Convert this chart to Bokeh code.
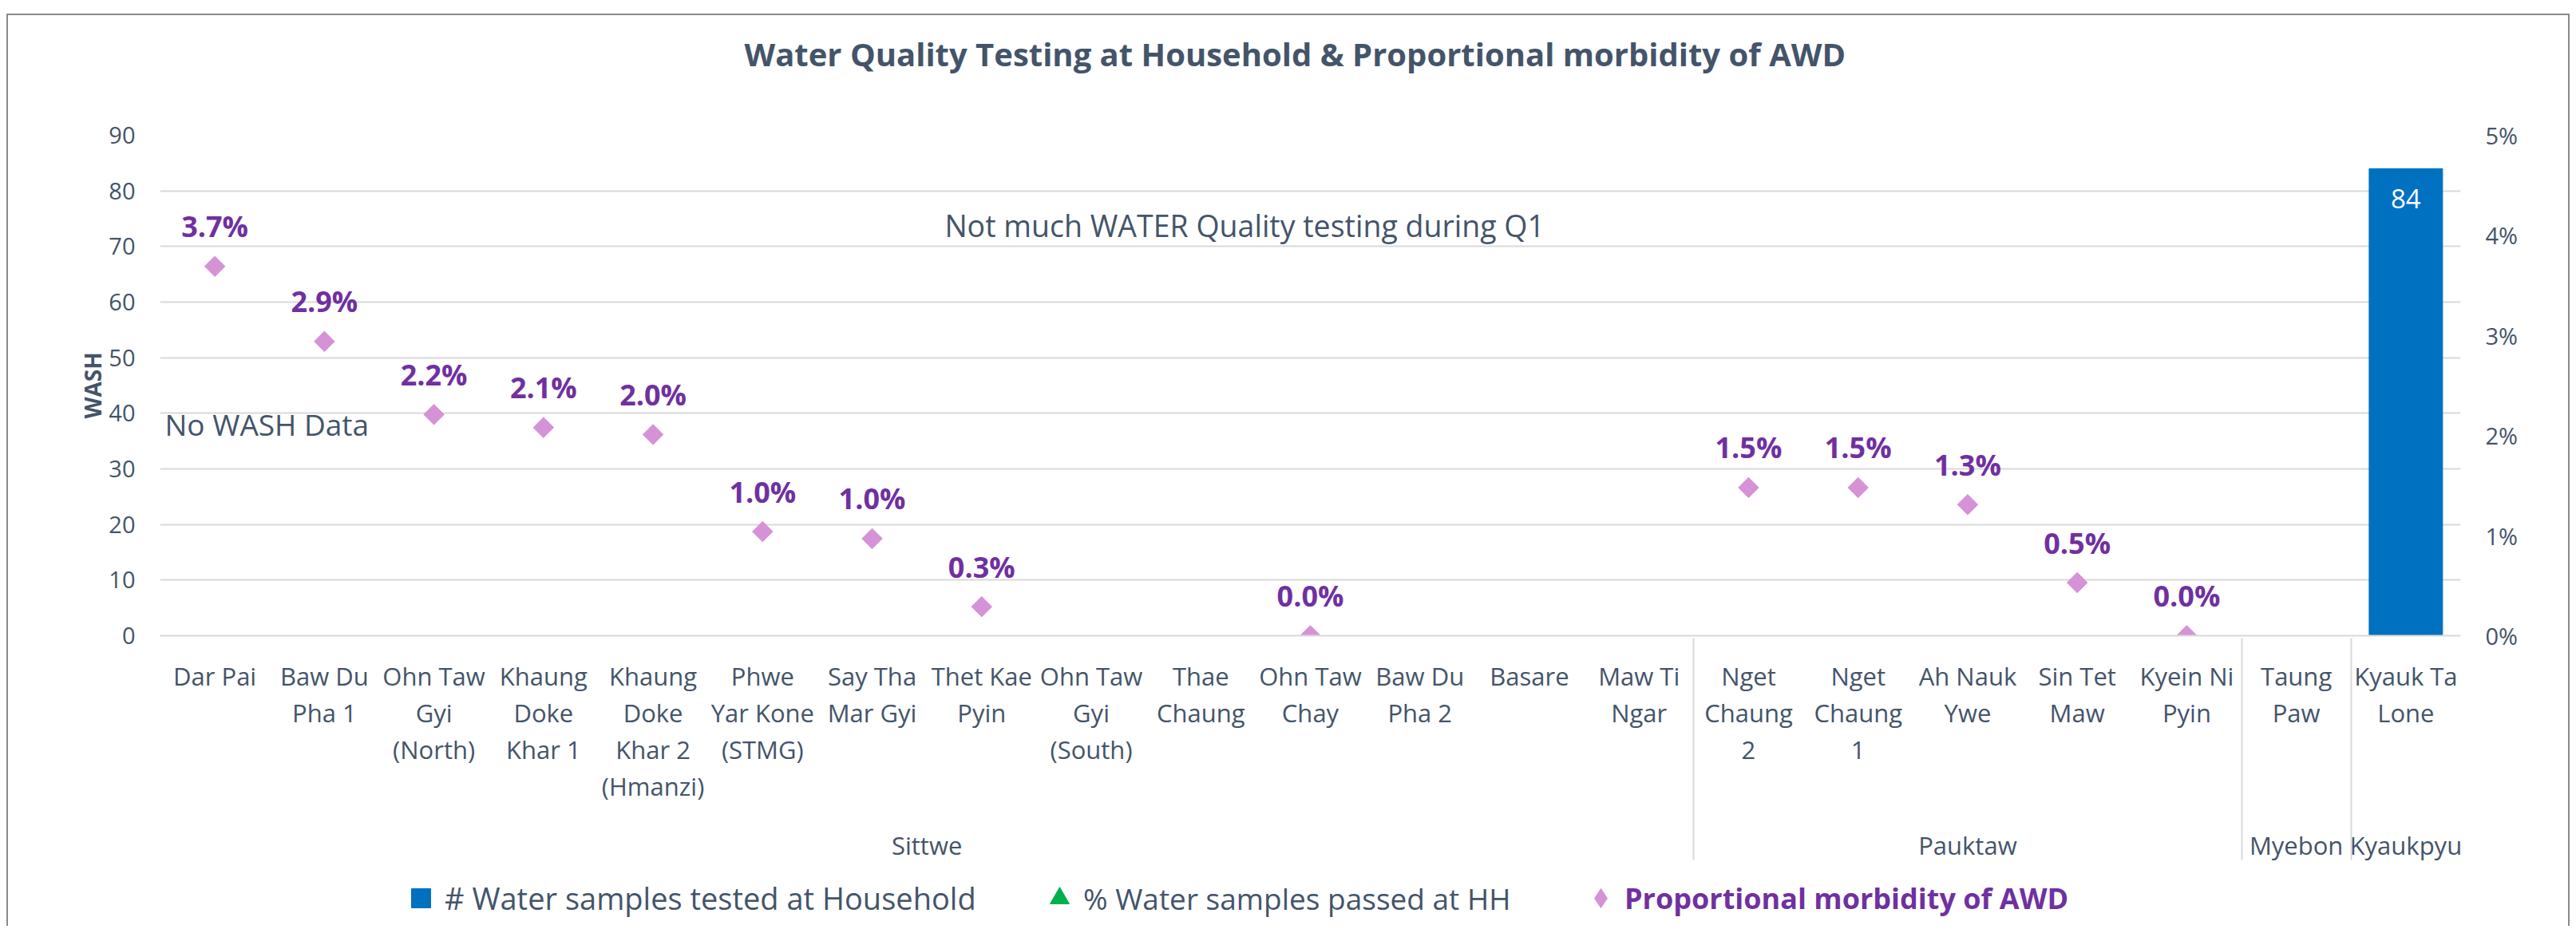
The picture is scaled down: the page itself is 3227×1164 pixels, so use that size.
import math
from bokeh.plotting import figure
from bokeh.layouts import column
from bokeh.models import (ColumnDataSource, FactorRange, Range1d, LinearAxis, FixedTicker,
                          NumeralTickFormatter, LabelSet, Label, Legend, LegendItem, Title)
from bokeh.core.properties import value
from bokeh.embed import file_html
from bokeh.resources import INLINE

# ---------------- data ----------------
districts = ["Sittwe"] * 14 + ["Pauktaw"] * 5 + ["Myebon", "Kyaukpyu"]
villages = ["Dar Pai", "Baw Du\nPha 1", "Ohn Taw\nGyi\n(North)", "Khaung\nDoke\nKhar 1",
            "Khaung\nDoke\nKhar 2\n(Hmanzi)", "Phwe\nYar Kone\n(STMG)", "Say Tha\nMar Gyi",
            "Thet Kae\nPyin", "Ohn Taw\nGyi\n(South)", "Thae\nChaung", "Ohn Taw\nChay",
            "Baw Du\nPha 2", "Basare", "Maw Ti\nNgar", "Nget\nChaung\n2", "Nget\nChaung\n1",
            "Ah Nauk\nYwe", "Sin Tet\nMaw", "Kyein Ni\nPyin", "Taung\nPaw", "Kyauk Ta\nLone"]
samples_tested = [None] * 20 + [84]
pct_passed = [None] * 21
morbidity = [0.0369, 0.0294, 0.0221, 0.0208, 0.0201, 0.0104, 0.0097, 0.0029, None, None,
             0.0, None, None, None, 0.0148, 0.0148, 0.0131, 0.0053, 0.0, None, None]
left_ticks = [0, 10, 20, 30, 40, 50, 60, 70, 80, 90]
right_ticks = [0, 0.01, 0.02, 0.03, 0.04, 0.05]
series_names = ["# Water samples tested at Household", "% Water samples passed at HH",
                "Proportional morbidity of AWD"]

TXT = "#44546A"
PURPLE = "#7030A0"
BLUE = "#0070C0"
GREEN = "#00B050"
PINK = "#D592D6"
GRID = "#D9D9D9"
FONT = "Open Sans"

factors = list(zip(districts, villages))

bar_src = ColumnDataSource(dict(
    x=[f for f, v in zip(factors, samples_tested) if v is not None],
    v=[v for v in samples_tested if v is not None],
    lab=[str(v) for v in samples_tested if v is not None]))
tri_src = ColumnDataSource(dict(
    x=[f for f, v in zip(factors, pct_passed) if v is not None],
    v=[v for v in pct_passed if v is not None]))
mor_src = ColumnDataSource(dict(
    x=[f for f, v in zip(factors, morbidity) if v is not None],
    v=[v for v in morbidity if v is not None],
    lab=[f"{v * 100:.1f}%" for v in morbidity if v is not None]))

W = 3207
p = figure(x_range=FactorRange(*factors, group_padding=0, factor_padding=0, range_padding=0),
           y_range=Range1d(0, 90), width=W, height=1069,
           output_backend="svg", toolbar_location=None,
           min_border_left=190, min_border_right=135, min_border_top=150, min_border_bottom=292)
p.extra_y_ranges = {"pct": Range1d(0, 0.05)}

# spacer between the frame and the title
p.add_layout(Title(text=" ", text_font=FONT, text_font_size="45px", standoff=0), "above")

p.title.text = "Water Quality Testing at Household & Proportional morbidity of AWD"
p.title.align = "left"
p.title.offset = 732
p.title.text_font = FONT
p.title.text_font_style = "bold"
p.title.text_font_size = "40px"
p.title.text_color = TXT
p.title.standoff = 24

p.outline_line_color = None
p.xgrid.grid_line_color = None
p.ygrid.grid_line_color = GRID
p.ygrid.grid_line_width = 2
p.ygrid.ticker = FixedTicker(ticks=left_ticks)

ya = p.yaxis[0]
ya.ticker = FixedTicker(ticks=left_ticks)
ya.axis_line_color = None
ya.major_tick_line_color = None
ya.major_tick_out = 0
ya.major_tick_in = 0
ya.minor_tick_line_color = None
ya.major_label_text_font = FONT
ya.major_label_text_font_size = "29px"
ya.major_label_text_color = TXT
ya.major_label_standoff = 31
ya.axis_label = "WASH"
ya.axis_label_text_font = FONT
ya.axis_label_text_font_style = "bold"
ya.axis_label_text_font_size = "28px"
ya.axis_label_text_color = TXT
ya.axis_label_standoff = -2

ra = LinearAxis(y_range_name="pct", ticker=FixedTicker(ticks=right_ticks),
                formatter=NumeralTickFormatter(format="0%"))
ra.axis_line_color = None
ra.major_tick_line_color = None
ra.major_tick_out = 0
ra.major_tick_in = 0
ra.minor_tick_line_color = None
ra.major_label_text_font = FONT
ra.major_label_text_font_size = "29px"
ra.major_label_text_color = TXT
ra.major_label_standoff = 31
p.add_layout(ra, "right")

xa = p.xaxis[0]
xa.axis_line_color = GRID
xa.axis_line_width = 2
xa.major_tick_line_color = None
xa.major_tick_out = 0
xa.major_tick_in = 0
xa.minor_tick_line_color = None
xa.major_label_text_font = FONT
xa.major_label_text_font_size = "31px"
xa.major_label_text_color = TXT
xa.major_label_text_line_height = 1.1
xa.major_label_standoff = 29
xa.major_label_orientation = "horizontal"
xa.group_text_font = FONT
xa.group_text_font_size = "31px"
xa.group_text_font_style = "normal"
xa.group_text_color = TXT
xa.separator_line_color = GRID
xa.separator_line_width = 2

p.vbar(x="x", top="v", width=0.67, source=bar_src, color=BLUE)
p.scatter(x="x", y="v", source=tri_src, marker="triangle", size=24,
          color=GREEN, y_range_name="pct")
p.scatter(x="x", y="v", source=mor_src, marker="square", angle=math.pi / 4, size=18,
          color=PINK, y_range_name="pct")

p.add_layout(LabelSet(x="x", y="v", text="lab", source=bar_src, text_align="center",
                      text_baseline="top", y_offset=-26, text_color="white",
                      text_font=value(FONT), text_font_size="33px"))
p.add_layout(LabelSet(x="x", y="v", text="lab", source=mor_src, y_range_name="pct",
                      text_align="center", text_baseline="middle", y_offset=50,
                      text_color=PURPLE, text_font=value(FONT), text_font_style="bold",
                      text_font_size="36px"))

p.add_layout(Label(x=0, y=38, x_offset=6, text="No WASH Data", text_baseline="middle",
                   text_color=TXT, text_font=FONT, text_font_size="37px"))
p.add_layout(Label(x=9.9, y=73.8, text="Not much WATER Quality testing during Q1",
                   text_align="center", text_baseline="middle",
                   text_color=TXT, text_font=FONT, text_font_size="37.5px"))

# ---------------- legend strip ----------------
p2 = figure(width=W, height=72, x_range=Range1d(0, 1), y_range=Range1d(0, 1),
            output_backend="svg", toolbar_location=None, min_border=0,
            x_axis_location=None, y_axis_location=None)
p2.outline_line_color = None
p2.grid.grid_line_color = None
# legend swatches (kept outside the visible range of the strip)
r_bar = p2.scatter(x=[-5], y=[-5], marker="square", color=BLUE)
r_tri = p2.scatter(x=[-5], y=[-5], marker="triangle", color=GREEN)
r_dia = p2.scatter(x=[-5], y=[-5], marker="diamond", color=PINK)

legend_specs = [
    (series_names[0], r_bar, 297, "38px", TXT, "normal"),
    (series_names[1], r_tri, 1097, "37px", TXT, "normal"),
    (series_names[2], r_dia, 1775, "36px", PURPLE, "bold"),
]
for text, r, lx, fs, col, sty in legend_specs:
    lg = Legend(items=[LegendItem(label=text, renderers=[r])], location=(lx, 5),
                orientation="horizontal", padding=0, margin=0, spacing=0,
                border_line_color=None, background_fill_alpha=0,
                glyph_width=60, glyph_height=60, label_standoff=0,
                label_text_font=FONT, label_text_font_size=fs,
                label_text_color=col, label_text_font_style=sty)
    p2.add_layout(lg)

layout = column(p, p2, styles={"margin-left": "8px", "margin-top": "17px",
                               "border-top": "2px solid #8A8A8A",
                               "border-left": "2px solid #8A8A8A",
                               "border-right": "2px solid #8A8A8A"})

open("out.html", "w").write(file_html(layout, INLINE))
